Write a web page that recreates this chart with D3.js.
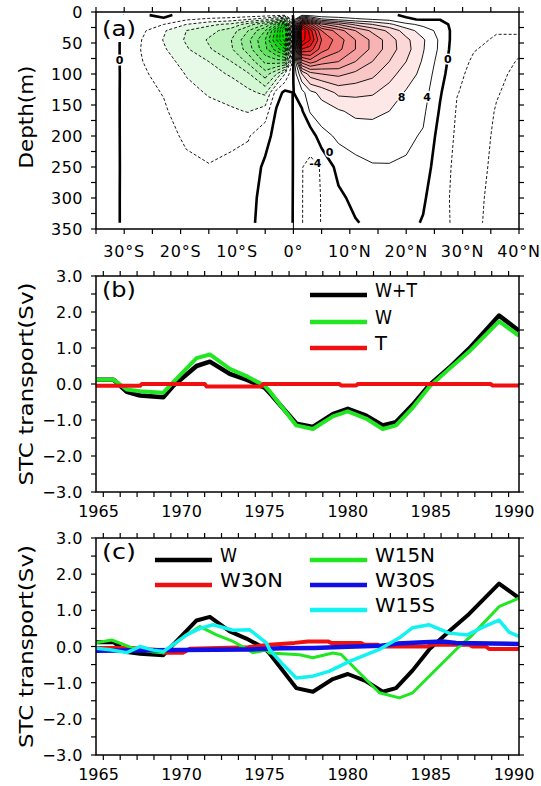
<!DOCTYPE html>
<html><head><meta charset="utf-8">
<script src="https://cdn.jsdelivr.net/npm/d3@7"></script>
<style>
body{margin:0;background:#fff}
svg{display:block}
text{font-family:"DejaVu Sans",sans-serif;fill:#000}
</style>
</head><body>
<svg id="chart" width="541" height="786"></svg>
<script>
// ---------------- Panel (a): streamfunction grid (Sv) ----------------
const lats = [-35,-31,-27,-23,-19,-15,-11,-8,-5,-3,-1.5,0,1.5,3,5,8,11,14,17,20,23,26,29,32,36,40];
const depths = [5,12,20,30,45,60,80,100,130,160,200,250,300,340];
const psi = [
 [0.3,0.1,-0.3,0.5,-0.8,-1,-1.2,-1.5,-2,-2.5,-3,0.2,3,2,1,0.7,0.5,0.4,0.3,-0.3,-0.5,-0.8,-0.8,-1,-1.5,-1.5],
 [0.4,0.15,-1,-0.3,-3.5,-5,-6,-8,-11,-16,-24,0.3,24,17,9,7,5,4,3,0.3,-0.2,-0.1,-1.2,-1.5,-2.2,-2.2],
 [0.5,0.2,-2,-4,-8,-11,-13,-18,-24,-34,-48,0.4,48,38,25,20,15,12,9,5,3,1.5,-1.6,-2,-3,-3],
 [0.6,0.2,-3,-7.5,-12,-14.5,-18,-24,-32,-46,-60,0.4,60,50,36,30,24,19,15,10,6,2.8,-2,-2.8,-3.8,-3.8],
 [0.7,0.2,-3.9,-8.2,-12.5,-16.5,-20,-27,-36,-48,-58,0.4,58,52,40,34,28,23,18,13,8.5,3.3,-2.4,-3.4,-4.3,-4.3],
 [0.7,0.2,-4.1,-7.5,-11.5,-15.5,-19.5,-26,-35,-42,-48,0.3,48,46,38,33,28,23,18,13.5,8.3,3.2,-2.8,-3.9,-4.5,-4.2],
 [0.7,0.2,-3.8,-6.3,-9.5,-12,-16,-21,-29,-30,-30,0.2,30,34,30,28,24,20,16,12,7.5,2.4,-3.2,-4.3,-4.5,-3.9],
 [0.6,0.2,-3.4,-5.2,-8.2,-10.5,-12.5,-15.5,-22,-16,-8,0.1,12,18,20,21,19,17,13.5,10,6.8,1.6,-3.5,-4.6,-4.3,-3.7],
 [0.5,0.15,-2.8,-4.2,-7,-8.3,-9.5,-11,-13,-2,1,-0.1,2.5,7,9,13,13,12.5,10.3,7.6,5.8,0.4,-3.9,-4.8,-4.1,-3.5],
 [0.5,0.12,-2.3,-3.5,-6,-7,-7.5,-8.2,-6,0.5,1,-0.1,-0.5,4.5,6.5,7.5,9,9,8,6.3,4.8,-0.4,-4.3,-4.9,-3.9,-3.4],
 [0.4,0.1,-1.8,-2.7,-4.6,-5.5,-5,-4.3,-1.5,1.5,1.5,-0.1,-3.2,-2.5,2.5,4.8,5.5,6,5.5,4.8,3.6,-1.5,-4.6,-4.9,-3.7,-3.3],
 [0.3,0.08,-1.3,-1.8,-3.2,-3.8,-3,-2.5,0.8,1.8,1.5,-0.1,-3.9,-4.8,-3.8,1.5,3,3.7,3.8,3.5,2.2,-2.5,-4.8,-4.8,-3.5,-3.2],
 [0.3,0.05,-0.9,-1.2,-2,-2.3,-1.8,-1.5,1.5,1.5,1.2,-0.1,-3.9,-5,-3.9,-1,1.2,2,2.3,2.2,0.6,-3,-4.8,-4.6,-3.3,-3.1],
 [0.2,0.04,-0.7,-0.8,-1.3,-1.5,-1.2,-1,1.5,1.2,1,-0.1,-3.9,-5,-3.9,-2,-0.3,1,1.3,1.2,-0.3,-3,-4.7,-4.5,-3.2,-3]
];
const contourLevels = d3.range(-64, 68, 4);
const shadeLevels = [8,12,16,20,24,28,32,36,40,44,48,52,56,60];
const pinkColors  = ["#fde7e7","#fbd7d7","#f9c6c6","#f7b4b4","#f5a1a1","#f38d8d","#f17777","#ef6060","#ed4747","#ea2d2d","#e81212","#f00000","#f80000","#ff0000"];
const greenColors = ["#e7fae7","#d3f6d3","#bff2bf","#aaeeaa","#94ea94","#7ce57c","#62e062","#48db48","#2ed52e","#16d016","#00d000","#00dd00","#00ee00","#00ff00"];
const contourLabels = [
 {lat:-30.8, depth:77, text:"0"},
 {lat:6.4, depth:225, text:"0"},
 {lat:27.4, depth:76, text:"0"},
 {lat:19.2, depth:137, text:"8"},
 {lat:23.7, depth:137, text:"4"},
 {lat:3.9, depth:243, text:"-4"}
];
const latTicks = d3.range(-35, 41, 5);
const latLabels = [-30,-20,-10,0,10,20,30,40];
const depthTicks = d3.range(0, 351, 25);
const depthLabels = d3.range(0, 351, 50);

// ---------------- Panels (b),(c): time series (Sv) ----------------
const yearLabels = [1965,1970,1975,1980,1985,1990];
const valueLabels = [3,2,1,0,-1,-2,-3];
const valueTicks = d3.range(-3, 3.01, 0.5);
const serWT = [[1964.85,0.12],[1965.9,0.12],[1966.7,-0.22],[1967.5,-0.32],[1968.9,-0.37],[1969.5,-0.05],[1970.9,0.5],[1971.7,0.62],[1972.9,0.28],[1973.9,0.12],[1975.0,-0.1],[1975.3,-0.25],[1976.9,-1.1],[1977.9,-1.19],[1979.1,-0.84],[1980.0,-0.69],[1981.1,-0.88],[1982.1,-1.15],[1982.9,-1.06],[1983.9,-0.58],[1984.9,-0.03],[1986.1,0.45],[1987.3,0.98],[1989.1,1.9],[1990.3,1.48]];
const serW = [[1964.85,0.12],[1965.9,0.12],[1966.7,-0.15],[1967.5,-0.2],[1968.9,-0.24],[1969.5,0.05],[1970.9,0.72],[1971.7,0.82],[1972.9,0.42],[1973.9,0.22],[1975.0,-0.05],[1975.3,-0.2],[1976.9,-1.15],[1977.9,-1.25],[1979.1,-0.9],[1980.0,-0.76],[1981.1,-0.96],[1982.1,-1.25],[1982.9,-1.15],[1983.9,-0.66],[1984.9,-0.08],[1986.1,0.42],[1987.3,0.9],[1989.1,1.74],[1990.3,1.34]];
const serT = [[1964.85,-0.05],[1967.5,-0.05],[1967.6,0],[1971.4,0],[1971.5,-0.07],[1974.8,-0.07],[1974.9,0],[1979.5,0],[1979.6,-0.04],[1980.5,-0.04],[1980.6,0],[1988.6,0],[1988.7,-0.04],[1990.3,-0.04]];
const serW30N = [[1964.85,-0.04],[1967,-0.04],[1968.6,-0.1],[1968.9,-0.17],[1970.1,-0.17],[1970.5,-0.06],[1974,-0.02],[1975.3,0.05],[1976.8,0.1],[1977.6,0.14],[1978.8,0.14],[1979,0.1],[1980.8,0.1],[1981,0.05],[1981.8,0.05],[1982,0.0],[1984.8,0.0],[1985,0.05],[1987.3,0.05],[1987.5,0.0],[1988.3,0.0],[1988.5,-0.07],[1990.3,-0.07]];
const serW15N = [[1964.85,0.1],[1965.8,0.18],[1967.1,-0.05],[1968.3,-0.15],[1968.9,-0.17],[1970.3,0.32],[1971.1,0.55],[1972.1,0.32],[1973.1,0.14],[1974.3,-0.17],[1975.1,-0.1],[1975.3,-0.18],[1977.1,-0.23],[1977.9,-0.31],[1979.1,-0.18],[1979.6,-0.22],[1981.9,-1.28],[1983.1,-1.42],[1983.9,-1.28],[1986.7,0.0],[1987.4,0.28],[1989.1,1.1],[1990.3,1.34]];
const serW30S = [[1964.85,-0.12],[1970,-0.1],[1974,-0.08],[1976,-0.05],[1978,-0.04],[1980,-0.01],[1982,0.02],[1983,0.08],[1984.6,0.12],[1985.7,0.14],[1986.5,0.1],[1990.3,0.07]];
const serW15S = [[1964.85,-0.05],[1965.7,-0.09],[1966.7,-0.17],[1967.5,0.0],[1968.3,-0.1],[1968.9,-0.14],[1970.3,0.32],[1971.1,0.5],[1971.9,0.6],[1973.1,0.45],[1974.1,0.46],[1975.1,0.1],[1975.3,-0.09],[1976.1,-0.5],[1976.9,-0.87],[1977.9,-0.82],[1978.9,-0.68],[1980.1,-0.41],[1981.9,-0.08],[1983.1,0.24],[1983.9,0.52],[1984.9,0.6],[1986.1,0.37],[1987.2,0.32],[1988.1,0.53],[1989.1,0.73],[1989.7,0.4],[1990.3,0.28]];

const COL = {black:"#000000", green:"#22e622", red:"#f01010", blue:"#1010e6", cyan:"#12f2f2"};

// ---------------- drawing ----------------
const svg = d3.select("#chart");
const defs = svg.append("defs");
const L = 96, R = 519;

function frameTicksX(g, xs, yTop, yBot, len){
  xs.forEach(x=>{
    g.append("line").attr("x1",x).attr("x2",x).attr("y1",yBot).attr("y2",yBot+len).attr("stroke","#000").attr("stroke-width",1.2);
    g.append("line").attr("x1",x).attr("x2",x).attr("y1",yTop).attr("y2",yTop-len).attr("stroke","#000").attr("stroke-width",1.2);
  });
}
function frameTicksY(g, ys, len){
  ys.forEach(y=>{
    g.append("line").attr("x1",L-len).attr("x2",L).attr("y1",y).attr("y2",y).attr("stroke","#000").attr("stroke-width",1.2);
    g.append("line").attr("x1",R).attr("x2",R+len).attr("y1",y).attr("y2",y).attr("stroke","#000").attr("stroke-width",1.2);
  });
}
function yTitle(txt, cy, len){
  svg.append("text").attr("transform",`translate(33,${cy}) rotate(-90)`)
    .attr("text-anchor","middle").attr("font-size",19).attr("textLength",len).attr("lengthAdjust","spacingAndGlyphs").text(txt);
}

// ===== Panel (a) =====
const xA = d3.scaleLinear().domain([-35,40]).range([L,R]);
const yA = d3.scaleLinear().domain([0,350]).range([12,229]);
defs.append("clipPath").attr("id","clipA").append("rect").attr("x",L).attr("y",12).attr("width",R-L).attr("height",217);

const nx = lats.length, ny = depths.length;
const vals = psi.flat();
const negVals = vals.map(v=>-v);
const gi = d3.scaleLinear().domain(d3.range(nx)).range(lats).clamp(true);
const gj = d3.scaleLinear().domain(d3.range(ny)).range(depths).clamp(true);
const P = p => [xA(gi(p[0]-0.5)).toFixed(2), yA(gj(p[1]-0.5)).toFixed(2)];
const cgen = d3.contours().size([nx, ny]);

function polyPath(geom){
  return geom.coordinates.map(poly => poly.map(ring => "M"+ring.map(p=>P(p).join(",")).join("L")+"Z").join("")).join("");
}
const isB = p => p[0]===0 || p[0]===nx || p[1]===0 || p[1]===ny;
function linePath(geom){
  const out = [];
  geom.coordinates.forEach(poly => poly.forEach(ring => {
    let cur = [];
    for (let k=0;k<ring.length-1;k++){
      const a = ring[k], b = ring[k+1];
      if (isB(a) || isB(b)) { if (cur.length>1) out.push(cur); cur=[]; continue; }
      if (cur.length===0) cur.push(a);
      cur.push(b);
    }
    if (cur.length>1) out.push(cur);
  }));
  return out.map(l => "M"+l.map(p=>P(p).join(",")).join("L")).join("");
}

const gA = svg.append("g").attr("clip-path","url(#clipA)");
shadeLevels.forEach((t,i)=>{
  gA.append("path").attr("d", polyPath(cgen.contour(vals, t))).attr("fill", pinkColors[i]).attr("fill-rule","evenodd");
  gA.append("path").attr("d", polyPath(cgen.contour(negVals, t))).attr("fill", greenColors[i]).attr("fill-rule","evenodd");
});
// equator reference line
gA.append("line").attr("x1",xA(0)).attr("x2",xA(0)).attr("y1",yA(0)).attr("y2",yA(350)).attr("stroke","#000").attr("stroke-width",1);
contourLevels.forEach(t=>{
  const p = gA.append("path").attr("d", linePath(cgen.contour(vals, t))).attr("fill","none").attr("stroke","#000")
    .attr("stroke-linejoin","round");
  if (t===0) p.attr("stroke-width",2.6);
  else if (t<0) p.attr("stroke-width",0.9).attr("stroke-dasharray","3,2");
  else p.attr("stroke-width",0.9);
});
contourLabels.forEach(d=>{
  gA.append("text").attr("x",xA(d.lat)).attr("y",yA(d.depth)+4).attr("text-anchor","middle")
    .attr("font-size",11).attr("font-weight","bold").attr("stroke","#fff").attr("stroke-width",3)
    .attr("paint-order","stroke").text(d.text);
});
// label (a)
svg.append("rect").attr("x",100).attr("y",15).attr("width",38).attr("height",27).attr("fill","#fff");
svg.append("text").attr("x",102).attr("y",36).attr("font-size",21).attr("textLength",34).attr("lengthAdjust","spacingAndGlyphs").text("(a)");
svg.append("rect").attr("x",L).attr("y",12).attr("width",R-L).attr("height",217).attr("fill","none").attr("stroke","#000").attr("stroke-width",1.5);
const axA = svg.append("g");
frameTicksX(axA, latTicks.map(d=>xA(d)), 12, 229, 5);
frameTicksY(axA, depthTicks.map(d=>yA(d)), 5);
depthLabels.forEach(d=>{
  axA.append("text").attr("x",83).attr("y",yA(d)+6).attr("text-anchor","end").attr("font-size",16).attr("letter-spacing",0.5).text(d);
});
latLabels.forEach(d=>{
  const s = d===0 ? "0°" : Math.abs(d)+"°"+(d<0?"S":"N");
  axA.append("text").attr("x",xA(d)).attr("y",257).attr("text-anchor","middle").attr("font-size",16).attr("letter-spacing",0.8).text(s);
});
yTitle("Depth(m)", 117, 103);

// ===== Panels (b) and (c) =====
const xT = d3.scaleLinear().domain([1964.85, 1990.3]).range([L,R]);
const yearTicks = d3.range(25).map(i => 1965.29 + i*1.016);
function tsPanel(top, bot, label, series, legend){
  const y = d3.scaleLinear().domain([-3,3]).range([bot, top]);
  const id = "clip"+label;
  defs.append("clipPath").attr("id",id).append("rect").attr("x",L).attr("y",top).attr("width",R-L).attr("height",bot-top);
  const g = svg.append("g").attr("clip-path",`url(#${id})`);
  const line = d3.line().x(d=>xT(d[0])).y(d=>y(d[1]));
  series.forEach(s=>{
    g.append("path").attr("d", line(s.data)).attr("fill","none").attr("stroke", s.color).attr("stroke-width", s.w).attr("stroke-linejoin","round");
  });
  svg.append("rect").attr("x",L).attr("y",top).attr("width",R-L).attr("height",bot-top).attr("fill","none").attr("stroke","#000").attr("stroke-width",1.5);
  const ax = svg.append("g");
  frameTicksX(ax, yearTicks.map(d=>xT(d)), top, bot, 5);
  frameTicksY(ax, valueTicks.map(d=>y(d)), 5);
  valueLabels.forEach(v=>{
    ax.append("text").attr("x",83).attr("y",y(v)+6).attr("text-anchor","end").attr("font-size",16).attr("letter-spacing",0.5)
      .text((v<0?"\u2212":"")+Math.abs(v).toFixed(1));
  });
  yearLabels.forEach(v=>{
    ax.append("text").attr("x",xT(v)).attr("y",bot+25).attr("text-anchor","middle").attr("font-size",16).text(v);
  });
  svg.append("text").attr("x",102).attr("y",top+21).attr("font-size",21).attr("textLength",34).attr("lengthAdjust","spacingAndGlyphs").text("("+label+")");
  legend.forEach(e=>{
    svg.append("line").attr("x1",e.x).attr("x2",e.x+57).attr("y1",e.y).attr("y2",e.y).attr("stroke",e.color).attr("stroke-width",4.5);
    svg.append("text").attr("x",e.x+65).attr("y",e.y+2).attr("font-size",19).attr("textLength",e.tl).attr("lengthAdjust","spacingAndGlyphs").text(e.name);
  });
  yTitle("STC transport(Sv)", (top+bot)/2, 203);
}
tsPanel(276, 492, "b",
  [{data:serWT,color:COL.black,w:4.5},{data:serW,color:COL.green,w:4},{data:serT,color:COL.red,w:4}],
  [{name:"W+T",color:COL.black,x:310,y:295,tl:42},{name:"W",color:COL.green,x:310,y:322,tl:17},{name:"T",color:COL.red,x:310,y:348,tl:12}]);
tsPanel(538, 755, "c",
  [{data:serW,color:COL.black,w:4},{data:serW30N,color:COL.red,w:4},{data:serW15N,color:COL.green,w:3},{data:serW30S,color:COL.blue,w:4.5},{data:serW15S,color:COL.cyan,w:3.5}],
  [{name:"W",color:COL.black,x:155,y:560,tl:17},{name:"W30N",color:COL.red,x:155,y:585,tl:63},
   {name:"W15N",color:COL.green,x:310,y:560,tl:60},{name:"W30S",color:COL.blue,x:310,y:585,tl:60},{name:"W15S",color:COL.cyan,x:310,y:610,tl:60}]);
</script>
</body></html>
